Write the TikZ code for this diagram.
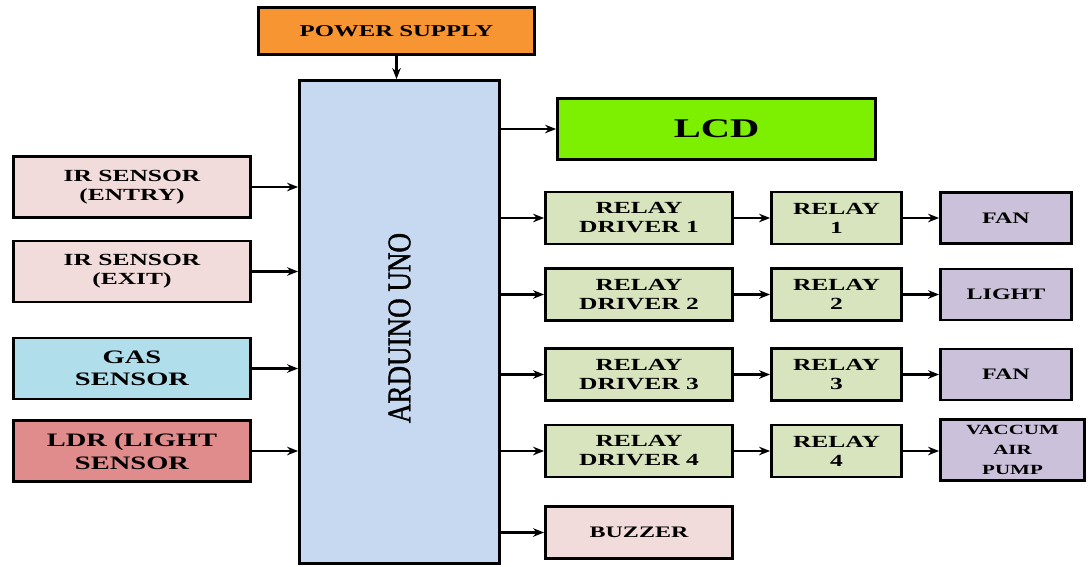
\documentclass[tikz,border=0pt]{standalone}
\usepackage{fontspec}
\setmainfont{Liberation Serif}[FakeStretch=1.5]
\newfontfamily\ardfont{Liberation Serif}[FakeStretch=0.82,FakeBold=1.2]
\usetikzlibrary{arrows.meta}
\definecolor{cOrange}{HTML}{F79533}
\definecolor{cArd}{HTML}{C6D9F1}
\definecolor{cPink}{HTML}{F2DCDB}
\definecolor{cGas}{HTML}{B0DEEA}
\definecolor{cLdr}{HTML}{E08C8C}
\definecolor{cLcd}{HTML}{7CF000}
\definecolor{cRelay}{HTML}{D7E4BD}
\definecolor{cOut}{HTML}{CCC1DA}
\tikzset{
  blk/.style={draw=black, line width=2.8pt, inner sep=0pt, align=center,
    font=\bfseries\fontsize{17}{19}\selectfont, text=black},
  inbox/.style={blk, minimum width=237pt, minimum height=61pt},
  drv/.style={blk, minimum width=187pt, minimum height=52pt, fill=cRelay},
  rly/.style={blk, minimum width=130pt, minimum height=52pt, fill=cRelay},
  outb/.style={blk, minimum width=131pt, minimum height=51pt, fill=cOut, font=\bfseries\fontsize{16}{19}\selectfont},
  conn/.style={line width=2.2pt, -{Stealth[length=11pt,width=8.5pt]}}
}
\begin{document}
\begin{tikzpicture}[x=1pt,y=-1pt]
\useasboundingbox[fill=white] (0,0) rectangle (1088,566);
% power & arduino
\node[blk, minimum width=276pt, minimum height=47pt, fill=cOrange, font=\bfseries\fontsize{16.5}{19}\selectfont] (power) at (396.5,31) {POWER SUPPLY};
\node[blk, minimum width=200pt, minimum height=483pt, fill=cArd] (ard) at (399.5,322) {};
\node[rotate=90, inner sep=0pt, font=\ardfont\fontsize{33}{36}\selectfont, text=black] (ardtxt) at (399.5,328) {ARDUINO UNO};
% inputs
\node[inbox, fill=cPink] (ir1) at (132,187) {IR SENSOR\\(ENTRY)};
\node[inbox, fill=cPink] (ir2) at (132,271.5) {IR SENSOR\\(EXIT)};
\node[inbox, fill=cGas, font=\bfseries\fontsize{19}{22}\selectfont] (gas) at (132,368.5) {GAS\\SENSOR};
\node[inbox, fill=cLdr, font=\bfseries\fontsize{19}{23}\selectfont] (ldr) at (132,451) {LDR (LIGHT\\SENSOR};
% outputs
\node[blk, minimum width=318pt, minimum height=61pt, fill=cLcd, font=\bfseries\fontsize{27}{30}\selectfont] (lcd) at (716.5,129) {LCD};
\node[drv] (d1) at (639,218) {RELAY\\DRIVER 1};
\node[drv] (d2) at (639,294.5) {RELAY\\DRIVER 2};
\node[drv] (d3) at (639,374.5) {RELAY\\DRIVER 3};
\node[drv] (d4) at (639,451) {RELAY\\DRIVER 4};
\node[drv, fill=cPink, font=\bfseries\fontsize{16}{19}\selectfont] (buz) at (639,532.5) {BUZZER};
\node[rly] (r1) at (836.5,218) {RELAY\\1};
\node[rly] (r2) at (836.5,294.5) {RELAY\\2};
\node[rly] (r3) at (836.5,374.5) {RELAY\\3};
\node[rly] (r4) at (836.5,451) {RELAY\\4};
\node[outb] (o1) at (1006,218) {FAN};
\node[outb] (o2) at (1006,294.5) {LIGHT};
\node[outb] (o3) at (1006,374.5) {FAN};
\node[outb, minimum width=144pt, minimum height=61pt, font=\bfseries\fontsize{14}{20}\selectfont] (o4) at (1012.5,450) {VACCUM\\AIR\\PUMP};
% connectors
\draw[conn] (power.south) -- (power.south |- ard.north);
\foreach \n in {ir1,ir2,gas,ldr}{\draw[conn] (\n.east) -- (\n.east -| ard.west);}
\foreach \n in {lcd,d1,d2,d3,d4,buz}{\draw[conn] (\n.west -| ard.east) -- (\n.west);}
\foreach \i in {1,2,3,4}{
  \draw[conn] (d\i.east) -- (r\i.west);
  \draw[conn] (r\i.east) -- (r\i.east -| o\i.west);
}
\end{tikzpicture}
\end{document}
